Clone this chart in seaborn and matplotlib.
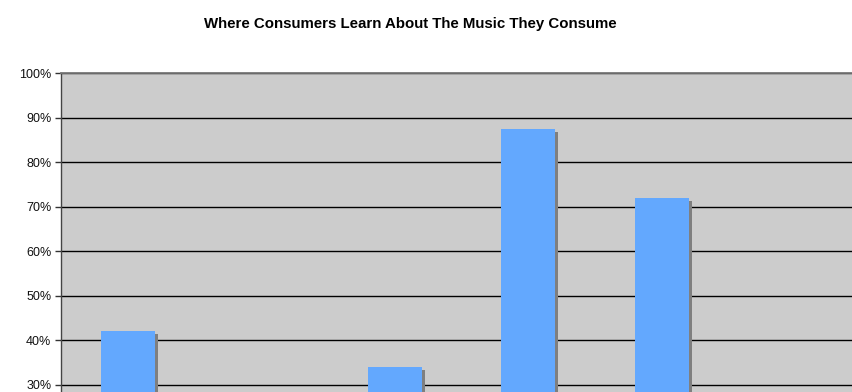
import matplotlib
matplotlib.use("Agg")
import matplotlib.pyplot as plt
import matplotlib.patheffects as pe
from matplotlib.ticker import PercentFormatter
import pandas as pd
import seaborn as sns

# Survey results: share of consumers naming each source
sources = ["Radio", "Music TV", "Friends", "Internet", "Stores", "Print"]
shares = [42.0, 22.0, 34.0, 87.5, 72.0, 12.0]
y_ticks = [30, 40, 50, 60, 70, 80, 90, 100]

title = "Where Consumers Learn About The Music They Consume"

df = pd.DataFrame({"source": sources, "share": shares})

sns.set_style("white")
plt.rcParams["font.family"] = ["Liberation Sans", "DejaVu Sans"]

fig = plt.figure(figsize=(8.52, 3.92), dpi=100)
# the plotting area runs past the lower and right edges of the canvas
ax = fig.add_axes([0.0716, -0.3222, 0.9401, 1.1352])
ax.set_facecolor("#cccccc")

sns.barplot(data=df, x="source", y="share", order=sources, color="#63a8fe",
            saturation=1, width=0.405, ax=ax, edgecolor="none")

shadow = [pe.SimplePatchShadow(offset=(2.2, -2.2), shadow_rgbFace="#7f7f7f", alpha=1.0),
          pe.Normal()]
for bar in ax.patches:
    bar.set_path_effects(shadow)

ax.set_ylim(0, 100)
ax.set_yticks(y_ticks)
ax.yaxis.set_major_formatter(PercentFormatter(decimals=0))
ax.set_axisbelow(True)
ax.yaxis.grid(True, color="black", linewidth=1.0)
ax.xaxis.grid(False)

ax.tick_params(axis="y", left=True, length=4, width=1, color="#333333",
               labelsize=9, pad=3, labelcolor="#111111")
ax.tick_params(axis="x", bottom=False, labelbottom=False)
ax.set_xlabel("")
ax.set_ylabel("")

for side in ("right", "bottom"):
    ax.spines[side].set_visible(False)
ax.spines["top"].set_color("#777777")
ax.spines["top"].set_linewidth(1.3)
ax.spines["left"].set_color("#444444")
ax.spines["left"].set_linewidth(1.0)

fig.text(0.482, 0.940, title, ha="center", va="center", fontsize=10.8,
         fontweight="bold", color="black")

fig.savefig("out.png", dpi=100)
